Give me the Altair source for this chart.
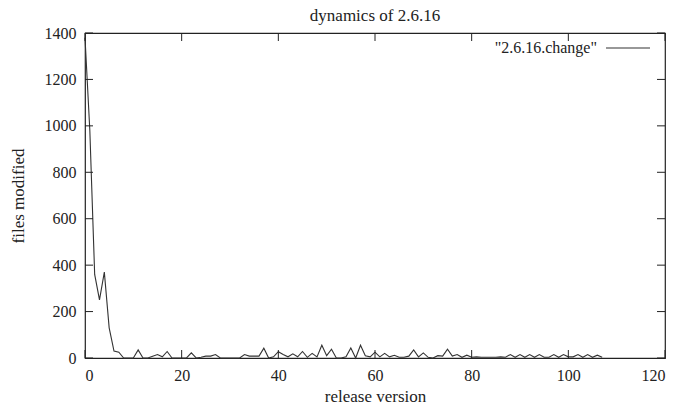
import altair as alt
import pandas as pd

release = list(range(108))
files_modified = [
    1380, 980, 360, 250, 370, 130, 30, 25, 0, 0,
    0, 35, 0, 0, 8, 15, 5, 28, 0, 0,
    0, 0, 22, 0, 3, 8, 8, 15, 0, 0,
    0, 0, 0, 15, 8, 8, 8, 42, 0, 5,
    27, 15, 5, 18, 5, 28, 3, 20, 5, 55,
    10, 38, 0, 0, 5, 43, 0, 55, 10, 5,
    25, 5, 20, 5, 12, 3, 3, 8, 35, 5,
    22, 3, 0, 10, 8, 38, 8, 15, 3, 12,
    3, 5, 3, 3, 3, 3, 5, 3, 15, 3,
    15, 3, 15, 3, 15, 3, 3, 15, 3, 15,
    5, 5, 15, 3, 15, 3, 12, 3,
]
x_ticks = [0, 20, 40, 60, 80, 100, 120]
y_ticks = [0, 200, 400, 600, 800, 1000, 1200, 1400]
series_name = '"2.6.16.change"'

W, H = 580, 325
FONT = "Liberation Serif"
INK = "#333333"
TXT = "#222222"

df = pd.DataFrame({"release": release, "files": files_modified})
xt = pd.DataFrame({"t": x_ticks})
yt = pd.DataFrame({"t": y_ticks})
leg = pd.DataFrame({"name": [series_name]})

xs = alt.Scale(domain=[0, 120], nice=False, zero=False)
ys = alt.Scale(domain=[0, 1400], nice=False)

x_axis = alt.Axis(values=x_ticks, format="d", grid=False, ticks=False, domain=False,
                  labelPadding=9, title="release version",
                  titleY=43, titleBaseline="alphabetic", titleFontWeight="normal",
                  labelFont=FONT, labelFontSize=16, labelColor=TXT,
                  titleFont=FONT, titleFontSize=17, titleColor=TXT)
y_axis = alt.Axis(values=y_ticks, format="d", grid=False, ticks=False, domain=False,
                  labelPadding=9, title="files modified",
                  titleX=-67, titleY=H / 2, titleAngle=270, titleAlign="center",
                  titleBaseline="middle", titleFontWeight="normal",
                  labelFont=FONT, labelFontSize=16, labelColor=TXT,
                  titleFont=FONT, titleFontSize=17, titleColor=TXT)

line = alt.Chart(df).mark_line(strokeWidth=1.1, color=INK).encode(
    x=alt.X("release:Q", scale=xs, axis=x_axis),
    y=alt.Y("files:Q", scale=ys, axis=y_axis),
)

legend_text = alt.Chart(leg).mark_text(align="right", baseline="middle", font=FONT,
                                       fontSize=16, color=TXT).encode(
    text="name:N", x=alt.value(512), y=alt.value(15))
legend_line = alt.Chart(leg).mark_rule(color=INK, strokeWidth=1.1).encode(
    x=alt.value(521), x2=alt.value(565), y=alt.value(15))

bottom_ticks = alt.Chart(xt).mark_rule(color=TXT).encode(
    x=alt.X("t:Q", scale=xs), y=alt.value(H), y2=alt.value(H - 8))
top_ticks = alt.Chart(xt).mark_rule(color=TXT).encode(
    x=alt.X("t:Q", scale=xs), y=alt.value(0), y2=alt.value(8))
left_ticks = alt.Chart(yt).mark_rule(color=TXT).encode(
    y=alt.Y("t:Q", scale=ys), x=alt.value(0), x2=alt.value(8))
right_ticks = alt.Chart(yt).mark_rule(color=TXT).encode(
    y=alt.Y("t:Q", scale=ys), x=alt.value(W - 8), x2=alt.value(W))

chart = alt.layer(line, bottom_ticks, top_ticks, left_ticks, right_ticks,
                  legend_text, legend_line).properties(
    width=W, height=H,
    title=alt.Title("dynamics of 2.6.16", font=FONT, fontSize=17, fontWeight="normal",
                    color=TXT, offset=0, anchor="middle"),
    autosize=alt.AutoSizeParams(type="none"),
    padding={"left": 77, "top": 25, "right": 3, "bottom": 50},
).configure_view(stroke=TXT, strokeWidth=1.2)

chart.save("out.html", embed_options={"renderer": "svg", "actions": False})
